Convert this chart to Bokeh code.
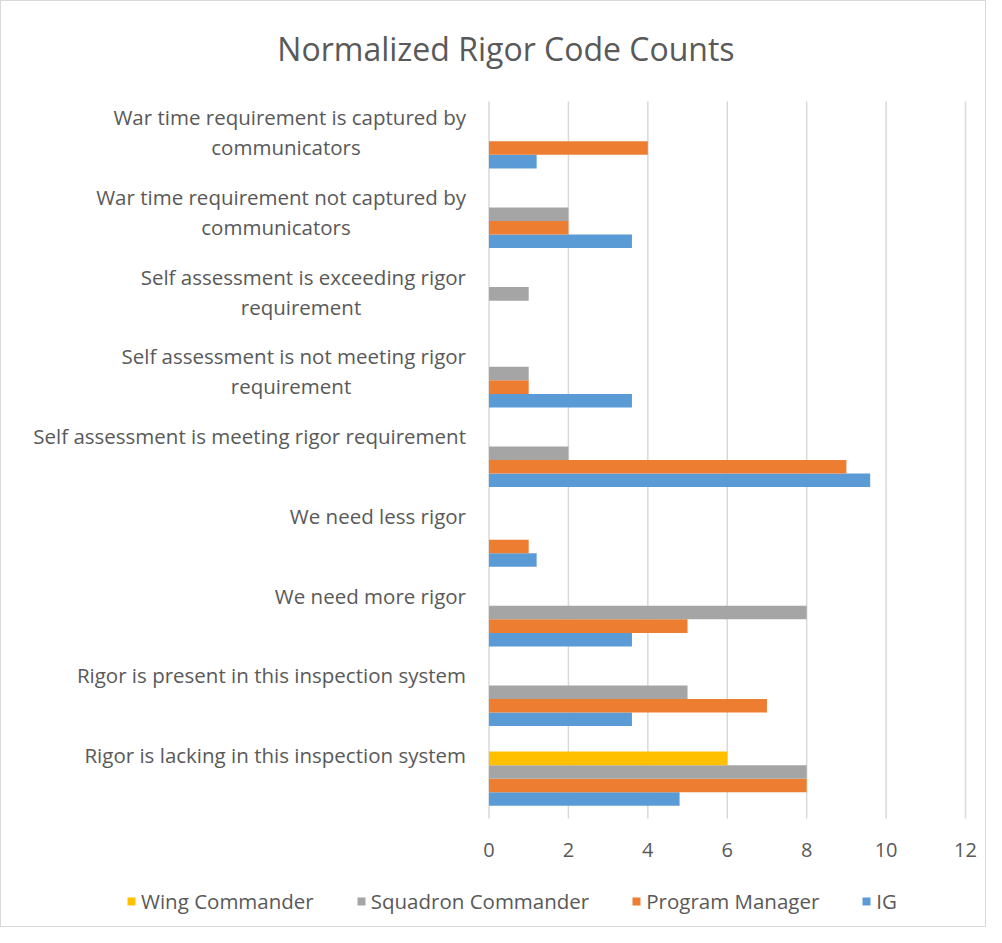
from bokeh.plotting import figure
from bokeh.models import ColumnDataSource, Legend, LegendItem, FixedTicker, Range1d
from bokeh.core.properties import value
from bokeh.embed import file_html
from bokeh.resources import INLINE

categories = [
    "Rigor is lacking in this inspection system",
    "Rigor is present in this inspection system",
    "We need more rigor",
    "We need less rigor",
    "Self assessment is meeting rigor requirement",
    "Self assessment is not meeting rigor\nrequirement",
    "Self assessment is exceeding rigor\nrequirement",
    "War time requirement not captured by\ncommunicators",
    "War time requirement is captured by\ncommunicators",
]
ig = [4.8, 3.6, 3.6, 1.2, 9.6, 3.6, 0, 3.6, 1.2]
program_manager = [8, 7, 5, 1, 9, 1, 0, 2, 4]
squadron_commander = [8, 5, 8, 0, 2, 1, 1, 2, 0]
wing_commander = [6, 0, 0, 0, 0, 0, 0, 0, 0]
x_ticks = [0, 2, 4, 6, 8, 10, 12]

FONT = "Open Sans"
TXT = "#595959"
FS = "20.5px"
n = len(categories)
bar_h = 0.17
unit = 39.71                      # px per x unit
left_px, right_px = 463.5, 22     # frame space left of 0 and right of 12
band_px = 79.67                   # px per category band
top_px, bottom_px = 100, 110      # space above / below the plot area

p = figure(width=986, height=927, output_backend="svg", toolbar_location=None,
           x_range=Range1d(-left_px / unit, 12 + right_px / unit),
           y_range=Range1d(-bottom_px / band_px, n + top_px / band_px),
           y_axis_location=None, min_border_left=24, min_border_right=0,
           min_border_top=0, min_border_bottom=0)
p.styles = {"border": "1px solid #d9d9d9", "box-sizing": "border-box"}
p.outline_line_color = None
p.ygrid.grid_line_color = None
p.xgrid.grid_line_color = None
p.xaxis.fixed_location = 0
p.xaxis.ticker = FixedTicker(ticks=x_ticks)
p.xaxis.axis_line_color = None
p.xaxis.major_tick_line_color = None
p.xaxis.minor_tick_line_color = None
p.xaxis.major_label_standoff = 18
p.xaxis.major_label_text_font = FONT
p.xaxis.major_label_text_font_size = "20px"
p.xaxis.major_label_text_color = TXT

# vertical gridlines over the plot area
p.segment(x0=x_ticks, x1=x_ticks, y0=[0] * len(x_ticks), y1=[n] * len(x_ticks),
          line_color="#d9d9d9", line_width=1.5)

centers = [i + 0.5 for i in range(n)]
series = [
    ("IG", ig, "#5B9BD5", -1.5),
    ("Program Manager", program_manager, "#ED7D31", -0.5),
    ("Squadron Commander", squadron_commander, "#A5A5A5", 0.5),
    ("Wing Commander", wing_commander, "#FFC000", 1.5),
]
renderers = {}
for name, vals, color, k in series:
    src = ColumnDataSource(dict(y=[c + k * bar_h for c in centers], right=vals))
    r = p.hbar(y="y", left=0, right="right", height=bar_h, source=src,
               fill_color=color, line_color=None)
    renderers[name] = r

# category labels: first line right-aligned, second line centred under first
line1 = [c.split("\n")[0] for c in categories]
line2 = [c.split("\n")[1] if "\n" in c else "" for c in categories]
l2_off = {5: -198, 6: -188, 7: -213, 8: -203}
lab_src = ColumnDataSource(dict(
    x=[0] * n, y=[i + 1 for i in range(n)], t1=line1, t2=line2,
    xo2=[l2_off.get(i, -23) for i in range(n)]))
p.text(x="x", y="y", text="t1", source=lab_src, x_offset=-23, y_offset=16,
       text_align="right", text_baseline="middle", text_font=value(FONT),
       text_font_size=FS, text_color=TXT)
p.text(x="x", y="y", text="t2", source=lab_src, x_offset="xo2", y_offset=46,
       text_align="center", text_baseline="middle", text_font=value(FONT),
       text_font_size=FS, text_color=TXT)

p.text(x=[0], y=[n], text=["Normalized Rigor Code Counts"], x_offset=17, y_offset=-53,
       text_align="center", text_baseline="middle", text_font=value(FONT),
       text_font_size="32px", text_color=TXT)

legend = Legend(items=[LegendItem(label=name, renderers=[renderers[name]])
                       for name in ["Wing Commander", "Squadron Commander", "Program Manager", "IG"]],
                orientation="horizontal", location=(101, 13), padding=0, margin=0,
                spacing=42, label_standoff=5, glyph_width=10, glyph_height=10,
                label_text_font=FONT, label_text_font_size=FS, label_text_color=TXT,
                border_line_color=None, background_fill_alpha=0)
p.add_layout(legend)

open("out.html", "w").write(file_html(p, INLINE))
